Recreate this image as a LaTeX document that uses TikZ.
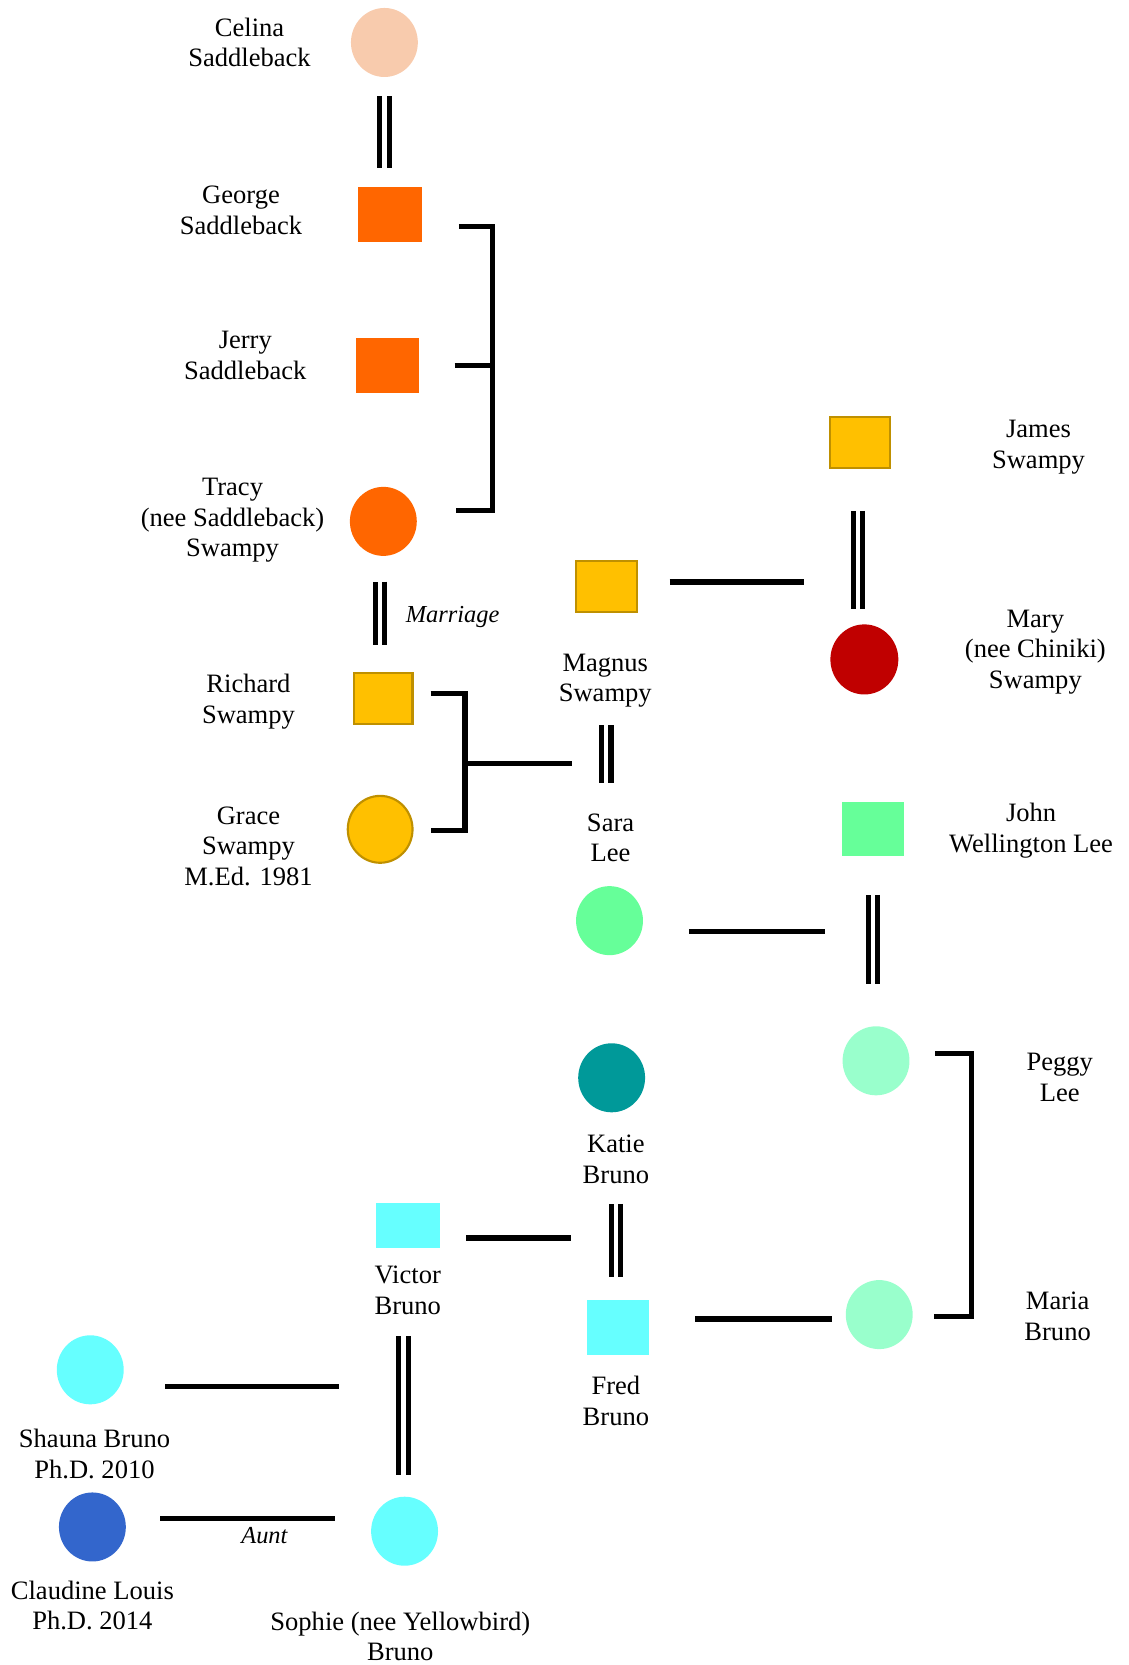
\documentclass[tikz,border=0pt]{standalone}
\usepackage{fontspec}
\setmainfont{Liberation Serif}
\usetikzlibrary{shapes.geometric}
\definecolor{celinac}{HTML}{F8CBAD}
\definecolor{orangec}{HTML}{FF6600}
\definecolor{goldc}{HTML}{FFC000}
\definecolor{goldline}{HTML}{BF9000}
\definecolor{maryc}{HTML}{C00000}
\definecolor{greenc}{HTML}{66FF99}
\definecolor{mintc}{HTML}{99FFCC}
\definecolor{tealc}{HTML}{009999}
\definecolor{cyanc}{HTML}{66FFFF}
\definecolor{bluec}{HTML}{3366CC}
\begin{document}
\begin{tikzpicture}[x=1pt,y=1pt,
  male/.style={rectangle,inner sep=0pt,minimum width=60pt,minimum height=52pt},
  female/.style={ellipse,inner sep=0pt,minimum width=63pt,minimum height=65pt},
  goldbox/.style={fill=goldc,draw=goldline,line width=2pt},
  lbl/.style={align=center,inner sep=0pt,font=\fontsize{25pt}{29pt}\selectfont},
  note/.style={inner sep=0pt,font=\fontsize{23pt}{27pt}\selectfont\itshape},
  conn/.style={line width=5pt,line join=miter},
  dbl/.style={double,double distance=4pt,line width=4.8pt},
]
\useasboundingbox (0,0) rectangle (1063,-1568);

% people
\node[female,fill=celinac] (celina) at (362,-40) {};
\node[lbl] (celinat) at (235,-40) {Celina\\Saddleback};

\node[male,fill=orangec] (george) at (367,-202) {};
\node[lbl] (georget) at (227,-198) {George\\Saddleback};

\node[male,fill=orangec] (jerry) at (365,-344) {};
\node[lbl] (jerryt) at (231,-335) {Jerry\\Saddleback};

\node[female,fill=orangec] (tracy) at (361,-491) {};
\node[lbl] (tracyt) at (219,-490) {Tracy\\(nee Saddleback)\\Swampy};

\node[male,goldbox,minimum width=55pt,minimum height=48pt] (richard) at (361,-658) {};
\node[lbl] (richardt) at (234,-661) {Richard\\Swampy};

\node[female,goldbox,minimum width=61pt,minimum height=63pt] (grace) at (358,-781) {};
\node[lbl] (gracet) at (234,-797) {Grace\\Swampy\\M.Ed. 1981};

\node[male,goldbox,minimum width=57pt,minimum height=48pt] (magnus) at (571,-552) {};
\node[lbl] (magnust) at (570,-641) {Magnus\\Swampy};

\node[male,goldbox,minimum width=56pt,minimum height=48pt] (james) at (810,-417) {};
\node[lbl] (jamest) at (978,-421) {James\\Swampy};

\node[female,fill=maryc,minimum width=64pt,minimum height=66pt] (mary) at (814,-621) {};
\node[lbl] (maryt) at (975,-614) {Mary\\(nee Chiniki)\\Swampy};

\node[lbl] (sarat) at (575,-789) {Sara\\Lee};
\node[female,fill=greenc] (sara) at (574,-867) {};

\node[male,fill=greenc,minimum width=59pt,minimum height=51pt] (john) at (822,-781) {};
\node[lbl] (johnt) at (971,-782) {John\\Wellington Lee};

\node[female,fill=mintc] (peggy) at (825,-999) {};
\node[lbl] (peggyt) at (998,-1015) {Peggy\\Lee};

\node[female,fill=tealc] (katie) at (576,-1015) {};
\node[lbl] (katiet) at (580,-1092) {Katie\\Bruno};

\node[female,fill=mintc] (maria) at (828,-1238) {};
\node[lbl] (mariat) at (996,-1240) {Maria\\Bruno};

\node[male,fill=cyanc,minimum width=59pt] (fred) at (582,-1250) {};
\node[lbl] (fredt) at (580,-1319) {Fred\\Bruno};

\node[male,fill=cyanc,minimum height=42pt] (victor) at (384,-1154) {};
\node[lbl] (victort) at (384,-1215) {Victor\\Bruno};

\node[female,fill=cyanc] (shauna) at (85,-1290) {};
\node[lbl] (shaunat) at (89,-1369) {Shauna Bruno\\Ph.D. 2010};

\node[female,fill=cyanc] (sophie) at (381,-1442) {};
\node[lbl] (sophiet) at (377,-1541) {Sophie (nee Yellowbird)\\Bruno};

\node[female,fill=bluec] (claudine) at (87,-1438) {};
\node[lbl] (claudinet) at (87,-1512) {Claudine Louis\\Ph.D. 2014};

% named coordinates on marriage lines
\coordinate (b1t) at (464,-213);
\coordinate (b1b) at (464,-481);
\coordinate (b2t) at (438,-653);
\coordinate (b2b) at (438,-782);
\coordinate (msm) at (571,-719);
\coordinate (jm) at (808,-548);
\coordinate (jp) at (822,-877);
\coordinate (b3t) at (915,-992);
\coordinate (b3b) at (915,-1240);
\coordinate (kf) at (580,-1166);
\coordinate (vs) at (380,-1306);

% marriages (double lines)
\draw[dbl,shorten <=18pt,shorten >=18pt] (celina.south) -- (celina.south |- george.north);
\draw[dbl,shorten <=24pt,shorten >=26pt] ([xshift=-3pt]tracy.south) -- ([xshift=-3pt]tracy.south |- richard.north);
\node[note,anchor=west] (marriage) at (382,-581) {Marriage};
\draw[dbl,shorten <=106pt,shorten >=97pt] (magnus.south) -- (magnus.south |- sara.north);
\draw[dbl,shorten <=39pt,shorten >=14pt] ([xshift=-2pt]james.south) -- ([xshift=-2pt]james.south |- mary.north);
\draw[dbl,shorten <=36pt,shorten >=40pt] (john.south) -- (john.south |- peggy.north);
\draw[dbl,shorten <=86pt,shorten >=21pt] ([xshift=4pt]katie.south) -- ([xshift=4pt]katie.south |- fred.north);
\draw[dbl,shorten <=83pt,shorten >=20pt] ([xshift=-4pt]victor.south) -- ([xshift=-4pt]victor.south |- sophie.north);

% sibling brackets
\draw[conn] ([shift={(35pt,-11pt)}]george.east) -- (b1t) -- (b1b) -- ([shift={(37pt,10pt)}]tracy.east);
\draw[conn] ([xshift=33pt]jerry.east) -- (jerry.east -| b1t);

\draw[conn] ([shift={(16pt,5pt)}]richard.east) -- (b2t) -- (b2b) -- ([shift={(16pt,-1pt)}]grace.east);
\draw[conn] (b2t |- msm) -- ([xshift=-32pt]msm);

\draw[conn] ([shift={(24pt,7pt)}]peggy.east) -- (b3t) -- (b3b) -- ([shift={(20pt,-2pt)}]maria.east);

% links to marriages
\draw[conn,shorten <=30pt,shorten >=51pt] ([yshift=4pt]magnus.east) -- (jm);
\draw[conn,shorten <=43pt,shorten >=45pt] ([yshift=-10pt]sara.east) -- (jp);
\draw[conn,shorten <=25pt,shorten >=42pt] ([yshift=-12pt]victor.east) -- (kf);
\draw[conn,shorten <=43pt,shorten >=13pt] ([yshift=8pt]fred.east) -- ([yshift=-4pt]maria.west);
\draw[conn,shorten <=39pt,shorten >=61pt] ([yshift=-16pt]shauna.east) -- (vs);
\draw[conn,shorten <=32pt,shorten >=34pt] ([yshift=8pt]claudine.east) -- ([yshift=12pt]sophie.west);
\node[note] (aunt) at (249,-1446) {Aunt};
\end{tikzpicture}
\end{document}
